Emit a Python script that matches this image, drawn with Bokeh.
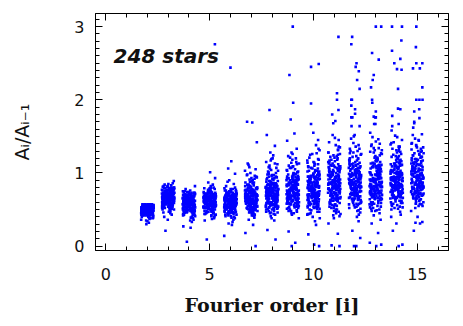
from bokeh.plotting import figure
from bokeh.models import LinearAxis, Range1d, FixedTicker, Label, CustomJSTickFormatter
from bokeh.embed import file_html
from bokeh.resources import INLINE

orders = [2, 3, 4, 5, 6, 7, 8, 9, 10, 11, 12, 13, 14, 15]

c2 = [0.52,0.48,0.55,0.50,0.46,0.53,0.57,0.44,0.51,0.49,0.56,0.47,0.54,0.42,0.50,0.55,0.52,0.45,0.48,0.53,
      0.40,0.51,0.56,0.49,0.54,0.46,0.52,0.57,0.43,0.50,0.55,0.48,0.38,0.53,0.51,0.47,0.56,0.44,0.52,0.49,
      0.54,0.50,0.41,0.55,0.46,0.53,0.57,0.48,0.51,0.36,0.52,0.45,0.55,0.50,0.47,0.54,0.43,0.56,0.49,0.52,
      0.39,0.51,0.53,0.46,0.55,0.48,0.50,0.57,0.44,0.54,0.42,0.52,0.49,0.56,0.47,0.53,0.51,0.45,0.55,0.34,
      0.50,0.48,0.54,0.52,0.46,0.56,0.41,0.53,0.49,0.55,0.30,0.51,0.47,0.57,0.44,0.52,0.37,0.50,0.54,0.32]
c3 = [0.65,0.72,0.58,0.80,0.61,0.69,0.54,0.76,0.63,0.70,0.57,0.82,0.66,0.60,0.74,0.52,0.68,0.78,0.62,0.71,
      0.55,0.64,0.79,0.67,0.59,0.73,0.50,0.66,0.81,0.62,0.69,0.56,0.75,0.64,0.70,0.53,0.77,0.61,0.68,0.58,
      0.84,0.63,0.72,0.66,0.51,0.74,0.60,0.79,0.65,0.57,0.71,0.62,0.76,0.55,0.68,0.64,0.80,0.59,0.73,0.67,
      0.48,0.70,0.63,0.77,0.61,0.66,0.54,0.72,0.69,0.58,0.75,0.65,0.52,0.78,0.62,0.68,0.56,0.71,0.64,0.60,
      0.86,0.67,0.73,0.45,0.66,0.59,0.74,0.63,0.70,0.47,0.89,0.61,0.40,0.69,0.36,0.65,0.57,0.43,0.21,0.62]
c4 = [0.58,0.66,0.50,0.72,0.55,0.62,0.46,0.69,0.57,0.64,0.52,0.74,0.60,0.48,0.67,0.54,0.70,0.59,0.44,0.63,
      0.56,0.71,0.51,0.65,0.58,0.47,0.68,0.61,0.53,0.73,0.57,0.43,0.66,0.62,0.49,0.70,0.55,0.64,0.60,0.45,
      0.75,0.58,0.52,0.67,0.61,0.41,0.63,0.56,0.69,0.50,0.59,0.72,0.54,0.65,0.38,0.62,0.57,0.48,0.68,0.53,
      0.60,0.71,0.46,0.64,0.58,0.51,0.66,0.36,0.61,0.55,0.70,0.47,0.63,0.59,0.52,0.74,0.56,0.42,0.67,0.60,
      0.54,0.65,0.39,0.58,0.62,0.49,0.69,0.57,0.35,0.64,0.82,0.61,0.78,0.33,0.27,0.25,0.60,0.06,0.56,0.63]
c5 = [0.60,0.68,0.52,0.75,0.57,0.64,0.47,0.71,0.59,0.66,0.54,0.78,0.62,0.49,0.69,0.56,0.73,0.61,0.45,0.65,
      0.58,0.74,0.53,0.67,0.60,0.48,0.70,0.63,0.55,0.77,0.59,0.44,0.68,0.64,0.51,0.72,0.57,0.66,0.62,0.46,
      0.79,0.60,0.54,0.69,0.63,0.42,0.65,0.58,0.71,0.52,0.61,0.76,0.56,0.67,0.40,0.64,0.59,0.50,0.70,0.55,
      0.62,0.73,0.48,0.66,0.60,0.53,0.68,0.38,0.63,0.57,0.72,0.49,0.65,0.61,0.54,0.80,0.58,0.43,0.69,0.62,
      0.56,0.67,0.41,0.60,0.64,0.51,0.71,0.59,0.37,0.66,1.01,0.93,0.87,0.84,0.35,0.82,0.09,0.57,0.63,0.45]
c6 = [0.58,0.67,0.50,0.74,0.55,0.63,0.45,0.70,0.57,0.65,0.52,0.77,0.61,0.47,0.68,0.54,0.72,0.60,0.43,0.64,
      0.56,0.73,0.51,0.66,0.59,0.46,0.69,0.62,0.53,0.76,0.57,0.42,0.67,0.63,0.49,0.71,0.55,0.65,0.61,0.44,
      0.79,0.58,0.52,0.68,0.62,0.40,0.64,0.56,0.70,0.50,0.60,0.75,0.54,0.66,0.38,0.63,0.57,0.48,0.69,0.53,
      0.61,0.72,0.46,0.65,0.59,0.51,0.67,0.36,0.62,0.55,0.71,0.47,0.64,0.60,0.52,0.78,0.56,0.41,0.68,0.61,
      0.54,0.66,0.39,0.58,0.63,0.49,0.70,0.57,0.33,0.65,1.16,1.06,0.99,0.90,0.85,0.82,0.29,0.14,0.59,0.31]
c7 = [0.62,0.71,0.53,0.79,0.58,0.67,0.48,0.75,0.60,0.69,0.55,0.82,0.64,0.50,0.72,0.57,0.77,0.63,0.46,0.68,
      0.59,0.78,0.54,0.70,0.61,0.49,0.74,0.66,0.56,0.81,0.60,0.45,0.71,0.67,0.52,0.76,0.58,0.69,0.64,0.47,
      0.84,0.62,0.55,0.73,0.65,0.43,0.68,0.59,0.75,0.53,0.63,0.80,0.57,0.70,0.41,0.66,0.61,0.51,0.74,0.56,
      0.64,0.77,0.49,0.69,0.62,0.54,0.72,0.39,0.66,0.58,0.76,0.50,0.68,0.63,0.55,0.86,0.60,0.44,0.73,0.65,
      0.88,0.92,0.97,0.90,1.03,0.95,1.08,0.87,1.13,0.93,1.42,0.71,0.61,1.00,0.36,0.29,0.18,0.00,0.42,0.83]
c8 = [0.68,0.79,0.57,0.88,0.63,0.74,0.51,0.84,0.66,0.77,0.59,0.93,0.70,0.54,0.81,0.62,0.86,0.69,0.48,0.76,
      0.64,0.90,0.58,0.78,0.67,0.52,0.83,0.72,0.60,0.96,0.65,0.47,0.80,0.73,0.55,0.87,0.63,0.77,0.70,0.50,
      0.99,0.68,0.59,0.82,0.71,0.45,0.75,0.64,0.85,0.56,0.69,0.92,0.61,0.79,0.43,0.73,0.66,0.53,0.84,0.60,
      0.71,0.89,0.51,0.76,0.67,0.58,0.81,0.41,0.72,0.62,0.86,0.54,0.74,0.69,0.57,1.01,0.65,0.46,0.83,0.70,
      1.04,1.10,0.97,1.15,1.07,1.20,0.95,1.12,1.02,1.24,1.28,1.37,1.52,0.78,0.38,0.35,0.22,0.09,1.17,0.94]
c9 = [0.72,0.84,0.60,0.94,0.67,0.79,0.54,0.90,0.70,0.82,0.62,0.99,0.75,0.57,0.87,0.65,0.92,0.73,0.51,0.81,
      0.68,0.96,0.61,0.83,0.71,0.55,0.89,0.77,0.63,1.03,0.69,0.49,0.86,0.78,0.58,0.93,0.66,0.82,0.74,0.52,
      1.07,0.72,0.62,0.88,0.76,0.47,0.80,0.68,0.91,0.59,0.73,0.98,0.64,0.85,0.45,0.78,0.70,0.56,0.90,0.63,
      0.76,0.95,0.53,0.81,0.71,0.61,0.87,0.43,0.77,0.66,0.92,0.57,0.79,0.74,0.60,1.10,0.69,0.48,0.89,0.75,
      1.13,1.18,1.05,1.23,1.15,1.28,1.01,1.21,1.09,1.33,1.44,1.54,1.73,0.84,0.66,1.00,0.38,0.20,0.045,0.00]
c10 = [0.72,0.86,0.58,0.97,0.65,0.80,0.51,0.92,0.69,0.83,0.60,1.03,0.75,0.54,0.89,0.63,0.95,0.73,0.47,0.81,
       0.67,1.00,0.59,0.85,0.70,0.52,0.91,0.78,0.61,1.08,0.68,0.45,0.87,0.79,0.56,0.96,0.64,0.83,0.74,0.49,
       1.12,0.71,0.60,0.90,0.77,0.43,0.81,0.66,0.94,0.57,0.73,1.02,0.62,0.86,0.40,0.78,0.69,0.53,0.93,0.61,
       0.76,0.99,0.50,0.82,0.71,0.59,0.88,0.38,0.77,0.64,0.95,0.55,0.80,0.74,0.58,1.15,0.67,0.44,0.91,0.75,
       1.18,1.25,1.10,1.31,1.21,1.38,1.06,1.27,1.14,1.45,1.55,0.86,0.70,1.03,0.92,0.34,0.29,0.16,0.02,0.00]
c11 = [0.80,0.95,0.64,1.08,0.72,0.88,0.56,1.02,0.76,0.92,0.67,1.15,0.83,0.59,0.99,0.70,1.05,0.81,0.52,0.90,
       0.74,1.11,0.65,0.94,0.78,0.57,1.01,0.86,0.68,1.20,0.75,0.50,0.97,0.87,0.62,1.07,0.71,0.92,0.82,0.54,
       1.25,0.79,0.66,1.00,0.85,0.47,0.90,0.73,1.04,0.63,0.81,1.13,0.69,0.96,0.44,0.87,0.77,0.58,1.03,0.68,
       0.84,1.10,0.55,0.91,0.79,0.65,0.98,0.41,0.86,0.71,1.06,0.61,0.89,0.82,0.64,1.28,0.74,0.48,1.01,0.83,
       1.32,1.18,1.38,1.23,1.42,1.16,1.35,1.52,1.22,1.45,0.38,0.45,0.31,0.17,0.01,0.00,0.42,0.93,0.77,1.09]
c12 = [0.82,0.97,0.66,1.10,0.74,0.90,0.58,1.04,0.78,0.94,0.69,1.17,0.85,0.61,1.01,0.72,1.07,0.83,0.54,0.92,
       0.76,1.13,0.67,0.96,0.80,0.59,1.03,0.88,0.70,1.22,0.77,0.52,0.99,0.89,0.64,1.09,0.73,0.94,0.84,0.56,
       1.27,0.81,0.68,1.02,0.87,0.49,0.92,0.75,1.06,0.65,0.83,1.15,0.71,0.98,0.46,0.89,0.79,0.60,1.05,0.70,
       0.86,1.12,0.57,0.93,0.81,0.67,1.00,0.43,0.88,0.73,1.30,1.20,1.36,1.25,1.41,1.47,1.33,1.52,0.40,1.18,
       0.34,0.21,0.11,0.00,0.00,0.84,0.97,0.72,1.12,0.63]
c13 = [0.82,0.98,0.65,1.11,0.73,0.91,0.57,1.05,0.78,0.95,0.68,1.18,0.86,0.60,1.02,0.71,1.08,0.84,0.53,0.93,
       0.76,1.14,0.66,0.97,0.80,0.58,1.04,0.89,0.70,1.23,0.77,0.51,1.00,0.90,0.63,1.10,0.72,0.95,0.85,0.55,
       1.28,0.81,0.67,1.03,0.88,0.48,0.93,0.74,1.07,0.64,0.83,1.16,0.70,0.99,0.45,0.90,0.79,0.59,1.06,0.69,
       0.87,1.13,0.56,0.94,0.82,0.66,1.01,0.50,0.89,0.73,1.31,1.21,1.37,1.26,1.43,1.49,1.34,1.55,1.19,1.40,
       0.42,0.48,0.36,0.31,0.18,0.045,0.00,0.02,0.75,0.92]
c14 = [0.84,1.00,0.67,1.13,0.75,0.93,0.59,1.07,0.80,0.97,0.70,1.20,0.88,0.62,1.04,0.73,1.10,0.86,0.55,0.95,
       0.78,1.16,0.68,0.99,0.82,0.60,1.06,0.91,0.72,1.25,0.79,0.53,1.02,0.92,0.65,1.12,0.74,0.97,0.87,0.57,
       1.30,0.83,0.69,1.05,0.90,0.50,0.95,0.76,1.09,0.66,0.85,1.18,0.71,1.01,0.47,0.92,0.81,0.61,1.08,0.70,
       0.89,1.15,0.58,0.96,0.84,0.68,1.03,0.52,0.91,0.75,1.33,1.23,1.39,1.28,1.45,1.51,1.36,1.58,1.21,1.42,
       0.43,0.31,0.21,0.02,0.00,0.40,0.77,0.94,1.11,0.64]
c15 = [0.88,1.03,0.72,1.16,0.80,0.97,0.64,1.10,0.84,1.00,0.75,1.22,0.92,0.67,1.07,0.78,1.13,0.90,0.60,0.99,
       0.82,1.19,0.73,1.02,0.86,0.65,1.09,0.95,0.77,1.27,0.83,0.58,1.05,0.96,0.70,1.15,0.79,1.00,0.91,0.62,
       1.32,0.87,0.74,1.08,0.94,0.55,0.98,0.81,1.12,0.71,0.89,1.20,0.76,1.04,0.52,0.96,0.85,0.66,1.11,0.75,
       0.93,1.17,0.63,0.99,0.88,0.73,1.06,0.57,0.95,0.80,1.35,1.25,1.41,1.30,1.47,1.53,1.38,1.29,1.24,1.44,
       0.48,0.33,0.32,0.31,0.21,0.40,0.82,0.97,1.14,0.69]

d2 = [0.49,0.54,0.45,0.51,0.56,0.47,0.53,0.50,0.43,0.55,0.52,0.48,0.57,0.46,0.51,0.54,0.44,0.50,0.53,0.47,
      0.55,0.49,0.42,0.52,0.56,0.48,0.51,0.45,0.54,0.50,0.53,0.46,0.57,0.49,0.52,0.44,0.55,0.48,0.51,0.40,
      0.54,0.47,0.50,0.56,0.43,0.53,0.49,0.52,0.46,0.55,0.51,0.57,0.45,0.50,0.54,0.48,0.39,0.53,0.47,0.56,
      0.52,0.44,0.50,0.55,0.49,0.53,0.46,0.57,0.51,0.48,0.54,0.42,0.52,0.47,0.56,0.50,0.45,0.53,0.49,0.55,
      0.51,0.46,0.54,0.38,0.52,0.48,0.57,0.50,0.44,0.53,0.47,0.55,0.41,0.51,0.49,0.56,0.45,0.52,0.35,0.50]
d3 = [0.67,0.60,0.74,0.56,0.70,0.63,0.79,0.58,0.68,0.72,0.53,0.65,0.76,0.61,0.69,0.57,0.81,0.64,0.71,0.59,
      0.75,0.62,0.52,0.68,0.73,0.66,0.55,0.78,0.63,0.70,0.60,0.83,0.67,0.57,0.72,0.64,0.51,0.76,0.69,0.61,
      0.74,0.58,0.66,0.80,0.62,0.71,0.54,0.68,0.77,0.65,0.59,0.73,0.63,0.70,0.56,0.82,0.67,0.61,0.75,0.64,
      0.50,0.69,0.72,0.58,0.66,0.79,0.62,0.74,0.55,0.68,0.71,0.60,0.77,0.65,0.53,0.70,0.63,0.81,0.67,0.59,
      0.73,0.64,0.56,0.76,0.69,0.61,0.78,0.66,0.49,0.72,0.62,0.75,0.58,0.68,0.85,0.64,0.46,0.70,0.60,0.74]
d4 = [0.60,0.53,0.67,0.49,0.63,0.57,0.71,0.51,0.61,0.65,0.46,0.59,0.69,0.55,0.62,0.50,0.73,0.58,0.64,0.52,
      0.68,0.56,0.45,0.61,0.66,0.59,0.48,0.70,0.57,0.63,0.54,0.74,0.60,0.50,0.65,0.58,0.44,0.68,0.62,0.55,
      0.67,0.51,0.59,0.72,0.56,0.64,0.47,0.61,0.69,0.58,0.52,0.66,0.57,0.63,0.49,0.75,0.60,0.54,0.67,0.58,
      0.43,0.62,0.65,0.51,0.59,0.71,0.56,0.66,0.48,0.61,0.64,0.53,0.70,0.58,0.46,0.63,0.57,0.73,0.60,0.52,
      0.66,0.57,0.49,0.68,0.62,0.54,0.70,0.59,0.42,0.65,0.55,0.67,0.50,0.61,0.76,0.57,0.40,0.63,0.53,0.66]
d5 = [0.63,0.55,0.70,0.51,0.66,0.59,0.74,0.53,0.64,0.68,0.48,0.61,0.72,0.57,0.65,0.52,0.77,0.60,0.67,0.54,
      0.71,0.58,0.47,0.63,0.69,0.62,0.50,0.73,0.59,0.66,0.56,0.78,0.62,0.52,0.68,0.60,0.46,0.71,0.65,0.57,
      0.70,0.53,0.61,0.75,0.58,0.67,0.49,0.64,0.72,0.60,0.54,0.69,0.59,0.66,0.51,0.79,0.63,0.56,0.70,0.61,
      0.45,0.65,0.68,0.53,0.62,0.74,0.58,0.69,0.50,0.64,0.67,0.55,0.73,0.61,0.48,0.66,0.59,0.76,0.63,0.54,
      0.69,0.60,0.51,0.71,0.65,0.56,0.74,0.62,0.44,0.68,0.57,0.70,0.52,0.64,0.80,0.60,0.42,0.66,0.55,0.69]
d6 = [0.61,0.54,0.69,0.50,0.65,0.58,0.73,0.52,0.63,0.67,0.47,0.60,0.71,0.56,0.64,0.51,0.76,0.59,0.66,0.53,
      0.70,0.57,0.46,0.62,0.68,0.61,0.49,0.72,0.58,0.65,0.55,0.77,0.61,0.51,0.67,0.59,0.45,0.70,0.64,0.56,
      0.69,0.52,0.60,0.74,0.57,0.66,0.48,0.63,0.71,0.59,0.53,0.68,0.58,0.65,0.50,0.78,0.62,0.55,0.69,0.60,
      0.44,0.64,0.67,0.52,0.61,0.73,0.57,0.68,0.49,0.63,0.66,0.54,0.72,0.60,0.47,0.65,0.58,0.75,0.62,0.53,
      0.68,0.59,0.50,0.70,0.64,0.55,0.73,0.61,0.43,0.67,0.56,0.69,0.51,0.63,0.80,0.59,0.41,0.65,0.54,0.88]
d7 = [0.65,0.57,0.74,0.52,0.69,0.61,0.79,0.54,0.67,0.72,0.49,0.63,0.77,0.59,0.68,0.53,0.82,0.62,0.71,0.56,
      0.75,0.60,0.48,0.66,0.73,0.64,0.51,0.78,0.61,0.70,0.58,0.84,0.65,0.53,0.72,0.62,0.47,0.76,0.68,0.59,
      0.74,0.55,0.63,0.80,0.60,0.70,0.50,0.67,0.77,0.62,0.56,0.73,0.61,0.69,0.52,0.86,0.66,0.58,0.74,0.63,
      0.46,0.68,0.71,0.55,0.64,0.79,0.60,0.73,0.51,0.67,0.70,0.57,0.78,0.63,0.49,0.69,0.61,0.83,0.66,0.56,
      0.72,0.62,0.53,0.76,0.68,0.58,0.80,0.64,0.44,0.71,0.89,0.94,0.91,0.98,1.05,0.60,0.42,0.87,0.96,1.11]
d8 = [0.71,0.62,0.81,0.56,0.75,0.66,0.87,0.59,0.73,0.79,0.53,0.68,0.85,0.64,0.74,0.57,0.91,0.67,0.78,0.60,
      0.83,0.65,0.51,0.72,0.80,0.70,0.55,0.86,0.66,0.77,0.63,0.93,0.71,0.58,0.79,0.67,0.50,0.84,0.74,0.64,
      0.82,0.59,0.69,0.89,0.65,0.76,0.54,0.73,0.85,0.67,0.61,0.80,0.66,0.75,0.56,0.95,0.72,0.63,0.81,0.68,
      0.48,0.74,0.78,0.59,0.70,0.88,0.65,0.80,0.55,0.73,0.77,0.62,0.86,0.69,0.52,0.76,0.66,0.92,0.72,0.60,
      0.79,0.67,0.57,0.84,0.74,0.63,0.89,0.70,0.46,0.78,0.98,1.03,0.97,1.08,1.13,0.65,0.44,1.00,1.06,1.19]
d9 = [0.75,0.65,0.86,0.58,0.79,0.69,0.93,0.61,0.77,0.84,0.55,0.71,0.90,0.67,0.78,0.59,0.97,0.70,0.83,0.63,
      0.88,0.68,0.53,0.76,0.85,0.73,0.57,0.92,0.69,0.81,0.66,0.99,0.75,0.60,0.84,0.70,0.52,0.89,0.78,0.67,
      0.87,0.62,0.72,0.95,0.68,0.80,0.56,0.77,0.91,0.70,0.64,0.85,0.69,0.79,0.58,1.01,0.76,0.66,0.86,0.71,
      0.50,0.78,0.83,0.62,0.74,0.94,0.68,0.85,0.57,0.77,0.82,0.65,0.91,0.72,0.54,0.80,0.69,0.98,0.76,0.63,
      0.84,0.70,0.59,0.89,0.78,0.66,0.95,0.74,0.48,0.83,1.04,1.09,1.02,1.14,1.20,0.68,0.45,1.07,1.12,1.26]
d10 = [0.77,0.66,0.89,0.58,0.82,0.71,0.97,0.62,0.79,0.87,0.55,0.73,0.94,0.68,0.80,0.60,1.01,0.72,0.86,0.64,
       0.92,0.70,0.53,0.78,0.88,0.75,0.57,0.96,0.71,0.84,0.67,1.04,0.77,0.61,0.87,0.72,0.51,0.93,0.81,0.68,
       0.90,0.63,0.74,0.99,0.70,0.83,0.56,0.79,0.95,0.72,0.65,0.88,0.71,0.82,0.58,1.06,0.78,0.67,0.89,0.73,
       0.49,0.81,0.86,0.63,0.76,0.98,0.69,0.88,0.57,0.79,0.85,0.66,0.95,0.74,0.54,0.83,0.71,1.02,0.78,0.64,
       0.87,0.72,0.59,0.93,0.81,0.67,0.99,0.76,0.47,0.86,1.09,1.14,1.07,1.19,1.26,0.70,0.44,1.12,1.17,1.33]
d11 = [0.85,0.72,0.98,0.63,0.90,0.78,1.07,0.67,0.87,0.96,0.60,0.80,1.04,0.74,0.88,0.65,1.12,0.79,0.95,0.70,
       1.01,0.76,0.57,0.86,0.97,0.82,0.62,1.06,0.78,0.93,0.73,1.15,0.85,0.66,0.96,0.79,0.55,1.03,0.89,0.74,
       0.99,0.69,0.81,1.10,0.77,0.91,0.61,0.87,1.05,0.79,0.71,0.97,0.78,0.90,0.63,1.18,0.86,0.73,0.98,0.80,
       0.52,0.89,0.95,0.69,0.84,1.08,0.76,0.97,0.62,0.87,0.94,0.72,1.05,0.81,0.58,0.91,0.78,1.13,0.86,0.70,
       0.96,0.79,0.64,1.02,0.89,0.73,1.09,0.84,0.50,0.95,1.21,1.26,1.17,1.31,1.24,0.76,0.47,1.28,1.36,1.48]
d12 = [0.86,0.73,1.00,0.64,0.91,0.79,1.09,0.68,0.88,0.97,0.61,0.81,1.06,0.75,0.89,0.66,1.14,0.80,0.96,0.71,
       1.03,0.77,0.58,0.87,0.98,0.83,0.63,1.08,0.79,0.94,0.74,1.17,0.86,0.67,0.97,0.80,0.56,1.05,0.90,0.75,
       1.01,0.70,0.82,1.12,0.78,0.92,0.62,0.88,1.07,0.80,0.72,0.99,0.79,0.91,0.64,1.20,0.87,0.74,1.00,0.81,
       0.53,0.90,0.96,0.70,0.85,1.10,0.77,0.98,0.63,0.88,0.95,0.73,1.07,0.82,0.59,0.92,0.79,1.15,0.87,0.71,
       0.97,0.80,0.65,1.04,0.90,0.74,1.11,0.85,0.51,0.96,1.23,1.28,1.19,1.33,1.26,0.77,0.48,1.30,1.38,1.50]
d13 = [0.87,0.74,1.01,0.65,0.92,0.80,1.10,0.69,0.89,0.98,0.62,0.82,1.07,0.76,0.90,0.67,1.15,0.81,0.97,0.72,
       1.04,0.78,0.59,0.88,0.99,0.84,0.64,1.09,0.80,0.95,0.75,1.18,0.87,0.68,0.98,0.81,0.57,1.06,0.91,0.76,
       1.02,0.71,0.83,1.13,0.79,0.93,0.63,0.89,1.08,0.81,0.73,1.00,0.80,0.92,0.65,1.21,0.88,0.75,1.01,0.82,
       0.54,0.91,0.97,0.71,0.86,1.11,0.78,0.99,0.64,0.89,0.96,0.74,1.08,0.83,0.60,0.93,0.80,1.16,0.88,0.72,
       0.98,0.81,0.66,1.05,0.91,0.75,1.12,0.86,0.52,0.97,1.24,1.29,1.20,1.34,1.27,0.78,0.49,1.31,1.39,1.46]
d14 = [0.89,0.76,1.03,0.67,0.94,0.82,1.12,0.71,0.91,1.00,0.64,0.84,1.09,0.78,0.92,0.69,1.17,0.83,0.99,0.74,
       1.06,0.80,0.61,0.90,1.01,0.86,0.66,1.11,0.82,0.97,0.77,1.20,0.89,0.70,1.00,0.83,0.59,1.08,0.93,0.78,
       1.04,0.73,0.85,1.15,0.81,0.95,0.65,0.91,1.10,0.83,0.75,1.02,0.82,0.94,0.67,1.23,0.90,0.77,1.03,0.84,
       0.56,0.93,0.99,0.73,0.88,1.13,0.80,1.01,0.66,0.91,0.98,0.76,1.10,0.85,0.62,0.95,0.82,1.18,0.90,0.74,
       1.00,0.83,0.68,1.07,0.93,0.77,1.14,0.88,0.54,0.99,1.26,1.31,1.22,1.36,1.29,0.80,0.51,1.33,1.41,1.49]
d15 = [0.93,0.80,1.07,0.71,0.98,0.86,1.16,0.75,0.95,1.04,0.68,0.88,1.13,0.82,0.96,0.73,1.21,0.87,1.03,0.78,
       1.10,0.84,0.65,0.94,1.05,0.90,0.70,1.15,0.86,1.01,0.81,1.24,0.93,0.74,1.04,0.87,0.63,1.12,0.97,0.82,
       1.08,0.77,0.89,1.19,0.85,0.99,0.69,0.95,1.14,0.87,0.79,1.06,0.86,0.98,0.71,1.27,0.94,0.81,1.07,0.88,
       0.60,0.97,1.03,0.77,0.92,1.17,0.84,1.05,0.70,0.95,1.02,0.80,1.14,0.89,0.66,0.99,0.86,1.22,0.94,0.78,
       1.04,0.87,0.72,1.11,0.97,0.81,1.18,0.92,0.58,1.03,1.30,1.35,1.26,1.40,1.33,0.84,0.55,1.37,1.45,1.52]

# horizontal scatter offsets of the points around their order
jit = [0.12,-0.25,0.03,0.27,-0.08,-0.19,0.21,-0.02,0.09,-0.28,0.17,-0.13,0.25,-0.05,0.06,-0.22,0.29,0.00,-0.16,0.14,
       -0.27,0.08,0.19,-0.10,-0.03,0.23,-0.20,0.11,-0.29,0.02,0.26,-0.07,0.15,-0.24,0.05,-0.14,0.20,-0.01,-0.18,0.28,
       0.10,-0.26,0.04,-0.11,0.22,-0.06,0.16,-0.21,0.07,-0.30,0.24,-0.09,0.13,-0.17,0.01,0.27,-0.23,0.18,-0.04,-0.12,
       0.09,-0.28,0.21,0.03,-0.15,0.26,-0.19,0.06,-0.08,0.14,-0.25,0.30,-0.02,0.11,-0.22,0.17,-0.06,0.23,-0.13,0.00,
       0.19,-0.27,0.08,-0.10,0.25,-0.16,0.04,0.29,-0.20,0.12,-0.05,0.15,-0.29,0.22,-0.01,-0.24,0.10,0.18,-0.14,0.07]

# isolated high points (order position, ratio)
out_x = [5.25,6.00,6.80,7.05,7.88,8.84,9.00,9.02,9.88,10.25,9.88,9.88,
         11.20,11.13,11.13,11.20,10.90,11.05,10.95,
         11.86,11.82,12.07,12.03,12.18,12.10,12.22,11.82,11.85,12.00,11.82,12.00,11.82,11.87,11.83,12.22,
         13.00,13.26,12.82,13.14,12.90,12.85,12.77,12.82,12.83,13.00,12.90,12.97,13.00,12.92,12.98,
         13.78,14.26,14.23,13.78,14.18,13.89,14.02,14.24,14.07,14.07,14.18,13.79,14.10,13.79,
         14.95,14.93,14.95,15.24,14.79,15.12,15.24,14.95,15.10,15.25,15.09,14.85,15.10,14.85,14.85,14.80]
out_y = [2.76,2.44,1.70,1.69,1.86,2.34,3.00,1.96,2.45,2.49,1.95,1.67,
         2.86,2.09,2.00,1.86,1.80,1.71,1.68,
         2.86,2.76,2.50,2.45,2.39,2.27,2.15,2.00,2.00,1.87,1.92,1.81,1.76,1.76,1.64,1.64,
         3.00,3.00,2.64,2.55,2.34,2.27,2.17,2.00,1.96,1.84,1.77,1.76,1.76,1.67,1.67,
         3.00,3.00,2.81,2.67,2.56,2.50,2.42,2.41,2.15,1.88,1.87,1.78,1.67,1.64,
         3.00,2.72,2.50,2.50,2.43,2.43,2.17,2.00,2.00,2.00,1.87,1.84,1.75,1.68,1.70,1.62]

x_major = [0, 5, 10, 15]
x_minor = list(range(0, 17))
y_major = [0, 1, 2, 3]
y_minor = [k / 10 for k in range(0, 32)]

xs, ys = [], []
groups = [(c2, d2), (c3, d3), (c4, d4), (c5, d5), (c6, d6), (c7, d7), (c8, d8),
          (c9, d9), (c10, d10), (c11, d11), (c12, d12), (c13, d13), (c14, d14), (c15, d15)]
for n, (order, (ca, cb)) in enumerate(zip(orders, groups)):
    for k, v in enumerate(ca):
        xs.append(order + jit[(k + 13 * n) % len(jit)])
        ys.append(v)
    for k, v in enumerate(cb):
        xs.append(order + jit[(k + 13 * n + 47) % len(jit)])
        ys.append(v)
xs += out_x
ys += out_y

p = figure(width=458, height=318, x_range=Range1d(-0.5, 16.5), y_range=Range1d(-0.06, 3.18),
           output_backend="svg", toolbar_location=None,
           min_border_left=95, min_border_right=10, min_border_top=13, min_border_bottom=65)
p.xgrid.visible = False
p.ygrid.visible = False
p.outline_line_color = "black"
p.background_fill_color = "white"

p.scatter(xs, ys, marker="square", size=2.6, fill_color="#0000FF", line_color=None)

def style(ax, ticks, minors):
    ax.ticker = FixedTicker(ticks=ticks, minor_ticks=minors)
    ax.axis_line_color = "black"
    ax.major_tick_line_color = "black"
    ax.minor_tick_line_color = "black"
    ax.major_tick_in = 7
    ax.major_tick_out = 0
    ax.minor_tick_in = 4
    ax.minor_tick_out = 0
    ax.major_label_text_font = "DejaVu Sans"
    ax.major_label_text_font_size = "16px"
    ax.major_label_text_color = "#111111"

xb = p.below[0]
yl = p.left[0]
style(xb, x_major, x_minor)
style(yl, y_major, y_minor)
xb.major_label_standoff = 17
yl.major_label_standoff = 11

xb.axis_label = "Fourier order [i]"
xb.axis_label_text_font = "DejaVu Serif"
xb.axis_label_text_font_style = "bold"
xb.axis_label_text_font_size = "19px"
xb.axis_label_standoff = 11
xb.axis_label_text_color = "#111111"

yl.axis_label = "Aᵢ/Aᵢ₋₁"
yl.axis_label_text_font = "DejaVu Sans"
yl.axis_label_text_font_style = "normal"
yl.axis_label_text_font_size = "19px"
yl.axis_label_standoff = 38
yl.axis_label_text_color = "#111111"

blank = CustomJSTickFormatter(code="return ''")
top = LinearAxis(formatter=blank, major_label_standoff=0)
style(top, x_major, x_minor)
p.add_layout(top, "above")
right = LinearAxis(formatter=blank, major_label_standoff=0)
style(right, y_major, y_minor)
p.add_layout(right, "right")

p.add_layout(Label(x=0.37, y=2.44, text="248 stars", text_font="DejaVu Sans",
                   text_font_style="bold italic", text_font_size="20px", text_color="#111111"))

open("out.html", "w").write(file_html(p, INLINE))
